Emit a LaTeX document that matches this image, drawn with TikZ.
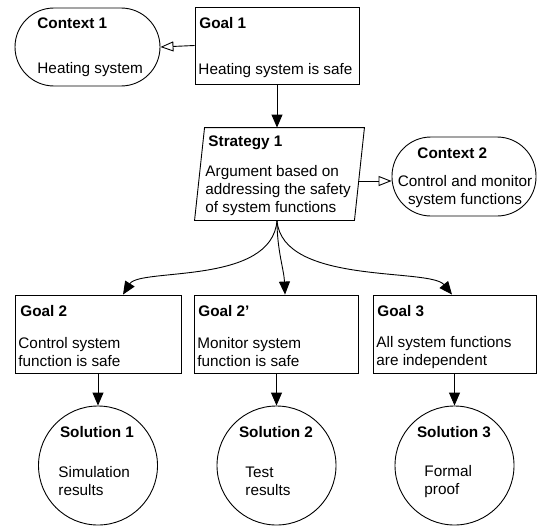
\documentclass[tikz,border=0pt]{standalone}
\usepackage{fontspec}
\setmainfont{Liberation Sans}
\usetikzlibrary{arrows.meta}
\begin{document}
\begin{tikzpicture}[x=1pt,y=-1pt,line width=0.9pt,
  goalbox/.style={draw,rectangle,inner sep=0pt,minimum height=78pt},
  ctxbox/.style={draw,rectangle,rounded corners=39pt,inner sep=0pt,minimum height=78pt},
  stratbox/.style={rectangle,inner sep=0pt,minimum width=169pt,minimum height=92pt},
  solcirc/.style={draw,circle,inner sep=0pt,minimum size=119pt},
  ttl/.style={font=\bfseries\fontsize{15.3}{18}\selectfont,inner sep=0pt,anchor=west},
  bdy/.style={font=\fontsize{15.3}{18}\selectfont,inner sep=0pt,anchor=west,align=left},
  arr/.style={-{Triangle[length=13pt,width=11pt]}},
  oarr/.style={-{Triangle[open,length=13pt,width=10pt,fill=white]}}
]
\useasboundingbox[fill=white] (0,0) rectangle (537,527);

% boxes
\node[ctxbox,minimum width=145pt] (c1) at (87.5,47) {};
\node[goalbox,minimum width=164pt,minimum height=77pt] (g1) at (277,45.5) {};
\node[stratbox] (st) at (279.5,174) {};
\draw ([xshift=10pt]st.north west) -- (st.north east) -- ([xshift=-10pt]st.south east) -- (st.south west) -- cycle;
\node[ctxbox,minimum width=144pt,minimum height=79pt] (c2) at (464,176.5) {};
\node[goalbox,minimum width=166pt] (g2) at (98,334) {};
\node[goalbox,minimum width=164pt] (g2p) at (276.5,334) {};
\node[goalbox,minimum width=163pt] (g3) at (454.5,334) {};
\node[solcirc] (s1) at (98,465.5) {};
\node[solcirc] (s2) at (276.5,465.5) {};
\node[solcirc] (s3) at (454.5,465.5) {};

% texts
\node[ttl] (c1t) at (37,23) {Context 1};
\node[bdy] (c1b) at (37,70) {Heating system};
\node[ttl] (g1t) at (199,23) {Goal 1};
\node[bdy] (g1b) at (198,71) {Heating system is safe};
\node[ttl] (stt) at (208,143) {Strategy 1};
\node[bdy] (stb) at (205,190.5) {Argument based on\\addressing the safety\\of system functions};
\node[ttl] (c2t) at (417,153) {Context 2};
\node[bdy,anchor=center,align=center] (c2b) at (465,191.5) {Control and monitor\\system functions};
\node[ttl] (g2t) at (20,311) {Goal 2};
\node[bdy] (g2b) at (18,352.5) {Control system\\function is safe};
\node[ttl] (g2pt) at (198,311) {Goal 2’};
\node[bdy] (g2pb) at (197,352.5) {Monitor system\\function is safe};
\node[ttl] (g3t) at (377,311) {Goal 3};
\node[bdy] (g3b) at (376,352.5) {All system functions\\are independent};
\node[ttl,anchor=center] (s1t) at (97,432) {Solution 1};
\node[bdy] (s1b) at (58,481.5) {Simulation\\results};
\node[ttl,anchor=center] (s2t) at (276,432) {Solution 2};
\node[bdy] (s2b) at (245,481.5) {Test\\results};
\node[ttl,anchor=center] (s3t) at (454,432) {Solution 3};
\node[bdy] (s3b) at (424,481.5) {Formal\\proof};

% connectors
\coordinate (sb) at ([xshift=-2.5pt]st.south);
\draw[oarr] (g1.west) -- (c1.east);
\draw[arr] (g1.south) -- (g1.south |- st.north);
\draw[oarr] (358,181) -- (c2.west |- 0,181);
\draw[arr] (sb) .. controls +(-5,65) and +(17,-27) .. ([xshift=25pt]g2.north);
\draw[arr] (sb) .. controls +(0,30) and +(-1,-25) .. ([xshift=8.5pt]g2p.north);
\draw[arr] (sb) .. controls +(5,65) and +(-22,-27) .. ([xshift=-2.5pt]g3.north);
\draw[arr] (g2.south) -- (s1.north);
\draw[arr] (g2p.south) -- (s2.north);
\draw[arr] (g3.south) -- (s3.north);
\end{tikzpicture}
\end{document}
